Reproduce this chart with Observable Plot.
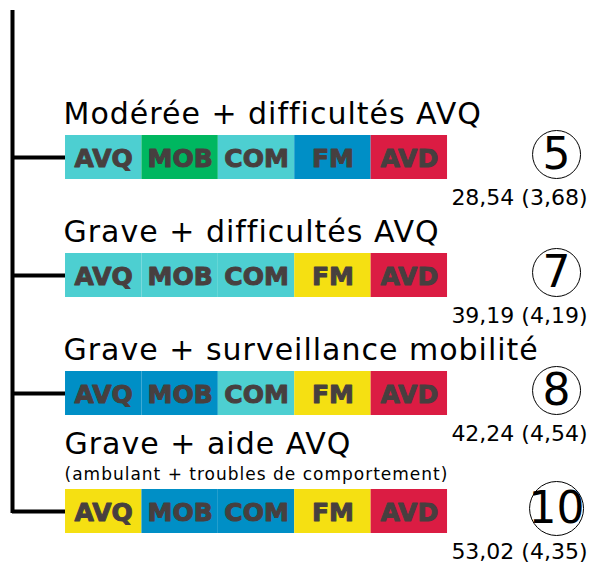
<!DOCTYPE html>
<html><head><meta charset="utf-8">
<script src="https://cdn.jsdelivr.net/npm/d3@7"></script>
<script src="https://cdn.jsdelivr.net/npm/@observablehq/plot@0.6"></script>
<style>
body{margin:0;background:#fff}
g[font-size="30"] text{letter-spacing:1px}
g[font-size="17"] text{letter-spacing:1px}
</style></head><body><div id="chart"></div>
<script>
// ---- data ----
const profiles = [
  "Modérée + difficultés AVQ",
  "Grave + difficultés AVQ",
  "Grave + surveillance mobilité",
  "Grave + aide AVQ"
];
const subtitles = ["", "", "", "(ambulant + troubles de comportement)"];
const profileNumbers = [5, 7, 8, 10];
const means = [28.54, 39.19, 42.24, 53.02];
const sds = [3.68, 4.19, 4.54, 4.35];
const segments = ["AVQ", "MOB", "COM", "FM", "AVD"];
// level of each segment (1 = lightest … 5 = heaviest)
const levels = [
  [2, 1, 2, 3, 5],
  [2, 2, 2, 4, 5],
  [3, 3, 2, 4, 5],
  [4, 3, 3, 4, 5]
];
const levelColors = ["#00b760", "#4dcfd1", "#008fc6", "#f5e012", "#db1c43"];

// ---- derived tables ----
const fmt = v => v.toFixed(2).replace(".", ",");
const cells = profiles.flatMap((p, i) => segments.map((s, j) => ({profile: p, segment: s, index: j, level: levels[i][j]})));
const rows = profiles.map((p, i) => ({
  profile: p, subtitle: subtitles[i], number: String(profileNumbers[i]),
  score: fmt(means[i]) + " (" + fmt(sds[i]) + ")"
}));

// layout (in segment units)
const X_TREE = -0.694, X_RIGHT = 6.832, X_BADGE = 6.427;
const ink = "#473f3f";

const chart = Plot.plot({
  width: 604, height: 567,
  marginTop: 10, marginBottom: 34, marginLeft: 12, marginRight: 17,
  x: {domain: [X_TREE, X_RIGHT], axis: null},
  y: {domain: profiles, axis: null, paddingInner: 0.63, paddingOuter: 0.5125, align: 1},
  color: {type: "ordinal", domain: [1, 2, 3, 4, 5], range: levelColors},
  r: {type: "identity"},
  style: {fontFamily: "DejaVu Sans", background: "white"},
  marks: [
    Plot.ruleX([X_TREE], {stroke: "black", strokeWidth: 4, insetBottom: 20}),
    Plot.ruleY(rows, {y: "profile", x1: X_TREE, x2: 0, stroke: "black", strokeWidth: 4}),
    Plot.barX(cells, {x1: "index", x2: d => d.index + 1, y: "profile", fill: "level"}),
    Plot.text(cells, {x: d => d.index + 0.5, y: "profile", text: "segment", fontSize: 25, fontWeight: "bold", fill: ink, stroke: ink, strokeWidth: 1, dy: 1}),
    Plot.text(rows.filter(d => !d.subtitle), {x: 0, y: "profile", text: "profile", textAnchor: "start", lineAnchor: "bottom", fontSize: 30, dy: -34, dx: -2, fill: "black"}),
    Plot.text(rows.filter(d => d.subtitle), {x: 0, y: "profile", text: "profile", textAnchor: "start", lineAnchor: "bottom", fontSize: 30, dy: -58, dx: -1, fill: "black"}),
    Plot.text(rows.filter(d => d.subtitle), {x: 0, y: "profile", text: "subtitle", textAnchor: "start", lineAnchor: "bottom", fontSize: 17, dy: -32, dx: -1, fill: "black"}),
    Plot.dot(rows, {x: X_BADGE, y: "profile", r: d => d.number.length > 1 ? 27 : 24, stroke: "black", strokeWidth: 1, fill: "none", dy: -3}),
    Plot.text(rows, {x: X_BADGE, y: "profile", text: "number", fontSize: 44, dy: -3, fill: "black"}),
    Plot.text(rows, {x: X_RIGHT, y: "profile", text: "score", textAnchor: "end", lineAnchor: "bottom", fontSize: 22, dy: 47, fill: "black"})
  ]
});
document.getElementById("chart").appendChild(chart);
</script></body></html>
